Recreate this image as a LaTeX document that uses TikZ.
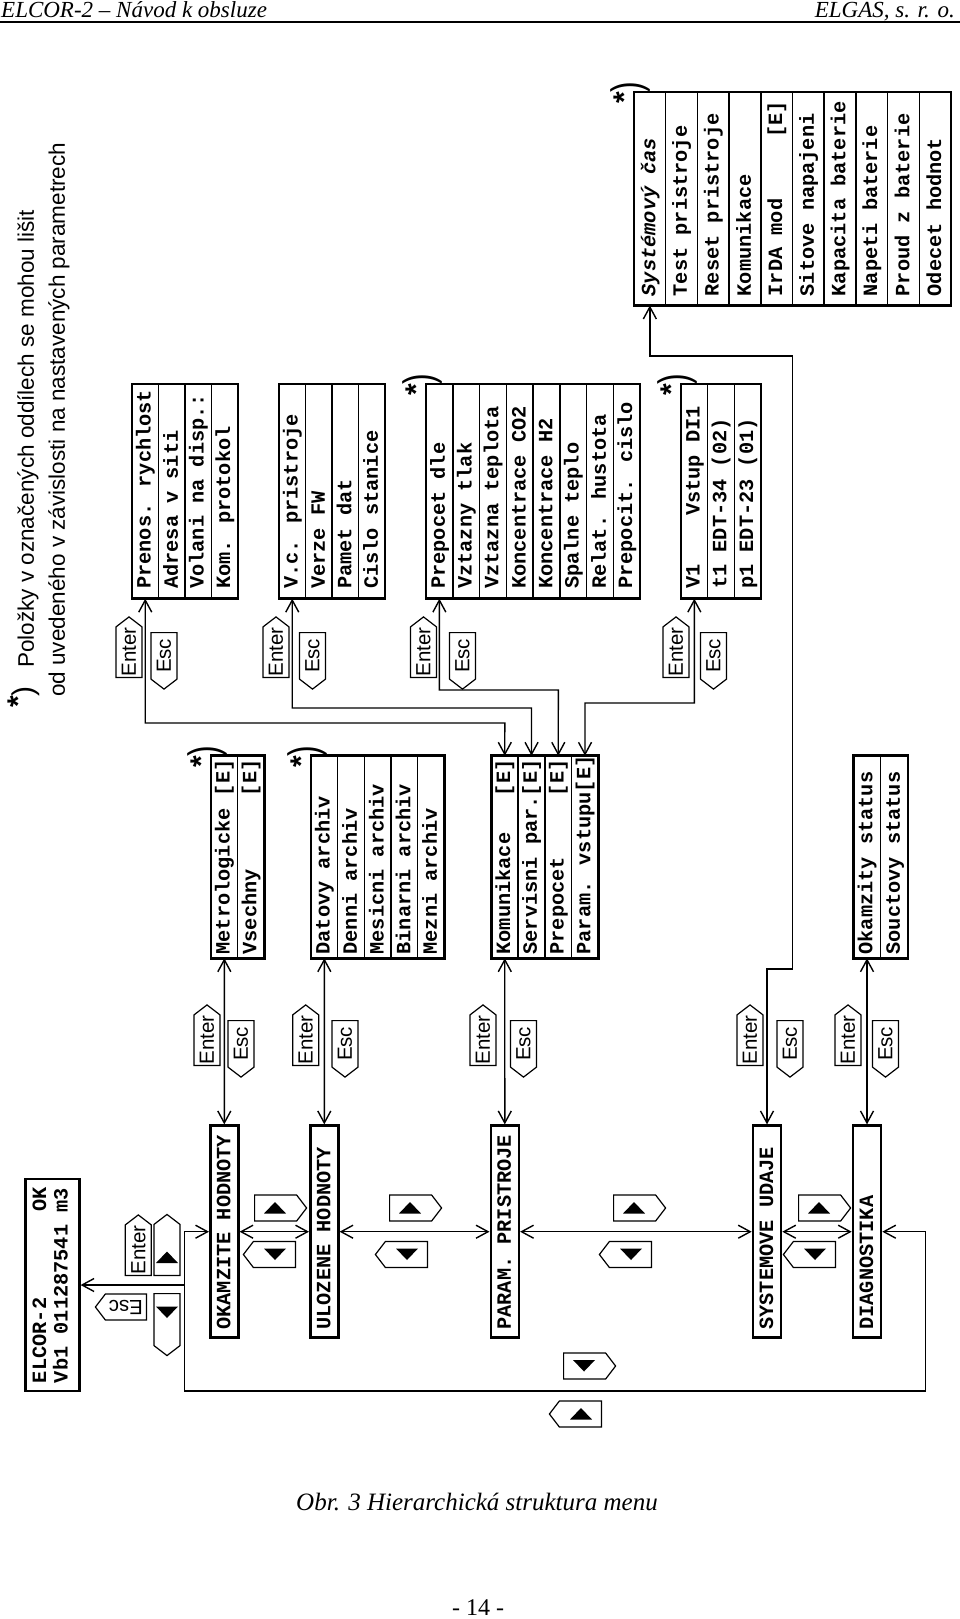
\documentclass[tikz,border=0pt]{standalone}
\usepackage{fontspec}
\setmainfont{Liberation Serif}
\setsansfont{Liberation Sans}
\newfontfamily\monof{Liberation Mono}
\usepackage{graphicx}
\usetikzlibrary{arrows.meta,shapes.symbols,calc}
\newcommand\mono{\monof\bfseries\fontsize{20.3}{21.5}\selectfont}
\newcommand\tagf{\sffamily\fontsize{20.5}{20.5}\selectfont}
\newcommand\legf{\sffamily\fontsize{22.5}{22.5}\selectfont}
\newcommand\hdrf{\rmfamily\itshape\fontsize{23}{23}\selectfont}
\newcommand\capf{\rmfamily\itshape\fontsize{25}{25}\selectfont}
\newcommand\rt[2]{\rotatebox{90}{\makebox[#1][l]{\rule[-3pt]{0pt}{18pt}#2}}}
\newcommand\starmark{{\bfseries\fontsize{30}{30}\selectfont\raisebox{7pt}{*}}{\fontsize{32}{32}\selectfont\scalebox{1}[1.33]{)}}}
\newcommand\starmarkS{{\bfseries\fontsize{30}{30}\selectfont\raisebox{5pt}{*}}{\fontsize{30}{30}\selectfont)}}
\newcommand\triU[1]{\fill #1 +(-11,5.5) -- +(11,5.5) -- +(0,-6) -- cycle;}
\newcommand\triD[1]{\fill #1 +(-11,-6) -- +(11,-6) -- +(0,5.5) -- cycle;}
\begin{document}
\begin{tikzpicture}[x=1pt,y=-1pt,
  >={Straight Barb[length=12pt,width=13pt]},
  conn/.style={line width=1.4pt},
  mbox/.style={draw, line width=2.6pt, minimum width=28pt, minimum height=212pt, inner sep=0pt, font=\mono},
  row/.style={draw, line width=1.5pt, inner sep=0pt, outer sep=0pt, font=\mono},
  outer/.style={line width=2.6pt},
  tg/.style={draw, line width=1.2pt, shape=signal, signal pointer angle=105, inner sep=0pt, font=\tagf},
  tgv/.style={tg, minimum width=26pt},
  tgh/.style={tg, minimum height=26pt},
  star/.style={rotate=90, anchor=base west, inner sep=0pt, font=\sffamily},
  side/.style={rotate=90, anchor=west, inner sep=0pt, font=\legf}]
\useasboundingbox (0,0) rectangle (960,1619);

% header
\node[anchor=base west, inner sep=0pt, font=\hdrf] (hdl) at (1,18) {ELCOR-2 – Návod k obsluze};
\node[anchor=base east, inner sep=0pt, font=\hdrf] (hdr) at (955,18) {ELGAS, s. r. o.};
\coordinate (hla) at (0,22);
\coordinate (hlb) at (960,22);
\draw[line width=1.2pt] (hla) -- (hlb);

% legend
\node[star] (stl) at (33,708) {\starmarkS};
\node[side] (leg1) at (28,668) {Položky v označených oddílech se mohou lišit};
\node[side] (leg2) at (59,697) {od uvedeného v závislosti na nastavených parametrech};

% main menu
\node[mbox, minimum width=53.6pt] (elcor) at (52.5,1285) {\rotatebox{90}{\begin{tabular}{@{}l@{}}\makebox[196pt][l]{ELCOR-2\hfill OK}\\\makebox[196pt][l]{Vb1 011287541 m3}\end{tabular}}};
\node[mbox] (okam) at (224.3,1231.7) {\rt{196pt}{OKAMZITE HODNOTY}};
\node[mbox] (uloz) at (324.3,1231.7) {\rt{196pt}{ULOZENE HODNOTY}};
\node[mbox] (param) at (504.8,1231.7) {\rt{196pt}{PARAM. PRISTROJE}};
\node[mbox] (syst) at (767,1231.7) {\rt{196pt}{SYSTEMOVE UDAJE}};
\node[mbox] (diag) at (867,1231.7) {\rt{196pt}{DIAGNOSTIKA}};

% submenus level 1
\foreach \t [count=\i] in {{Metrologicke\hfill[E]},{Vsechny\hfill[E]}}
  \node[row, minimum width=26.65pt, minimum height=202.6pt] (met\i) at ({211+26.65*(\i-0.5)},857) {\rt{195pt}{\t}};
\draw[outer] (met1.north west) rectangle (met2.south east);

\foreach \t [count=\i] in {Datovy archiv,Denni archiv,Mesicni archiv,Binarni archiv,Mezni archiv}
  \node[row, minimum width=26.66pt, minimum height=202.6pt] (dat\i) at ({311+26.66*(\i-0.5)},857) {\rt{195pt}{\t}};
\draw[outer] (dat1.north west) rectangle (dat5.south east);

\foreach \t [count=\i] in {{Komunikace\hfill[E]},{Servisni par.[E]},{Prepocet\hfill[E]},{Param. vstupu[E]}}
  \node[row, minimum width=26.75pt, minimum height=202.6pt] (kom\i) at ({491.4+26.75*(\i-0.5)},857) {\rt{195pt}{\t}};
\draw[outer] (kom1.north west) rectangle (kom4.south east);

\foreach \t [count=\i] in {Okamzity status,Souctovy status}
  \node[row, minimum width=27.4pt, minimum height=202.6pt] (ok\i) at ({853.3+27.4*(\i-0.5)},857) {\rt{195pt}{\t}};
\draw[outer] (ok1.north west) rectangle (ok2.south east);

% submenus level 2
\foreach \t [count=\i] in {Prenos. rychlost,Adresa v siti,Volani na disp.:,Kom. protokol}
  \node[row, minimum width=26.5pt, minimum height=214.7pt] (pr\i) at ({132+26.5*(\i-0.5)},491.35) {\rt{195pt}{\t}};
\draw[outer] (pr1.north west) rectangle (pr4.south east);

\foreach \t [count=\i] in {V.c. pristroje,Verze FW,Pamet dat,Cislo stanice}
  \node[row, minimum width=26.5pt, minimum height=214.7pt] (vc\i) at ({279+26.5*(\i-0.5)},491.35) {\rt{195pt}{\t}};
\draw[outer] (vc1.north west) rectangle (vc4.south east);

\foreach \t [count=\i] in {Prepocet dle,Vztazny tlak,Vztazna teplota,Koncentrace CO2,Koncentrace H2,Spalne teplo,Relat. hustota,Prepocit. cislo}
  \node[row, minimum width=26.75pt, minimum height=214.7pt] (pd\i) at ({426+26.75*(\i-0.5)},491.35) {\rt{195pt}{\t}};
\draw[outer] (pd1.north west) rectangle (pd8.south east);

\foreach \t [count=\i] in {V1~~~~Vstup DI1,t1 EDT-34 (02),p1 EDT-23 (01)}
  \node[row, minimum width=26.67pt, minimum height=214.7pt] (vi\i) at ({681+26.67*(\i-0.5)},491.35) {\rt{195pt}{\t}};
\draw[outer] (vi1.north west) rectangle (vi3.south east);

\foreach \t [count=\i] in {{{\itshape Systémový čas}},Test pristroje,Reset pristroje,Komunikace,{IrDA mod\hfill[E]},Sitove napajeni,Kapacita baterie,Napeti baterie,Proud z baterie,Odecet hodnot}
  \node[row, minimum width=31.7pt, minimum height=213.5pt] (sy\i) at ({634+31.7*(\i-0.5)},198.75) {\rt{195pt}{\t}};
\draw[outer] (sy1.north west) rectangle (sy10.south east);

% star marks
\node[star] (st1) at (218,768) {\starmark};
\node[star] (st2) at (318,768) {\starmark};
\node[star] (st3) at (433,396) {\starmark};
\node[star] (st4) at (688,396) {\starmark};
\node[star] (st5) at (641,104) {\starmark};

% main horizontal chain
\coordinate (ea) at (184.3,1231.7);
\coordinate (eb) at (184.3,1285);
\coordinate (ec) at (184.3,1391);
\coordinate (ed) at (925.7,1391);
\coordinate (ee) at (925.7,1231.7);
\draw[conn,->] (ea) -- (okam.west);
\draw[conn,->] (eb) -- (elcor.east);
\draw[conn,->] (ea) -- (ec) -- (ed) -- (ee) -- (diag.east);
\draw[conn,<->] (okam.east) -- (uloz.west);
\draw[conn,<->] (uloz.east) -- (param.west);
\draw[conn,<->] (param.east) -- (syst.west);
\draw[conn,<->] (syst.east) -- (diag.west);

% main to level 1
\draw[conn,<->] (okam.north) -- (met1.south);
\draw[conn,<->] (uloz.north) -- (dat1.south);
\draw[conn,<->] (param.north) -- (kom1.south);
\draw[conn,<->] (diag.north) -- (ok1.south);
\coordinate (sj1) at (792.7,356);
\coordinate (sj2) at (792.7,969);
\draw[conn,<->] (sy1.south) |- (sj1) -- (sj2) -| (syst.north);

% level 1 to level 2
\coordinate (pj) at (504.8,723);
\coordinate (vj) at (531.5,708);
\coordinate (dj) at (558.3,690);
\coordinate (wj) at (585,703);
\draw[conn,<->] (pr1.south) |- (pj) -- (kom1.north);
\draw[conn,<->] (vc1.south) |- (vj) -- (kom2.north);
\draw[conn,<->] (pd1.south) |- (dj) -- (kom3.north);
\draw[conn,<->] (vi1.south) |- (wj) -- (kom4.north);

% Enter / Esc tags on vertical connectors
\foreach \n/\xe/\xs in {a/207/241,b/305.7/345,c/483/523.5,d/750/790,e/848/885.5} {
  \node[tgv, signal to=north, minimum height=56pt, anchor=south] (en\n) at (\xe,1066) {\rotatebox{90}{Enter}};
  \node[tgv, signal to=south, minimum height=52pt, anchor=north] (es\n) at (\xs,1020) {\rotatebox{90}{Esc}};
}
\foreach \n/\xe/\xs in {f/129/164,g/276/312.5,h/423.5/462.5,i/676/713.5} {
  \node[tgv, signal to=north, minimum height=56pt, anchor=south] (en\n) at (\xe,678) {\rotatebox{90}{Enter}};
  \node[tgv, signal to=south, minimum height=52pt, anchor=north] (es\n) at (\xs,632) {\rotatebox{90}{Esc}};
}

% arrow-key tags on the main line
\foreach \n/\xu/\xd in {a/254/296,b/389/428,c/613/652,d/798/836} {
  \node[tgh, signal to=east, minimum width=52pt, anchor=west] (up\n) at (\xu,1208) {};
  \node[tgh, signal to=west, minimum width=52pt, anchor=east] (dn\n) at (\xd,1254.5) {};
  \triU{(\xu+21,1208)}
  \triD{(\xd-21,1254.5)}
}
\node[tgh, signal to=east, minimum width=52pt, anchor=west] (upl) at (563,1366) {};
\triD{(584,1366)}
\node[tgh, signal to=west, minimum width=52pt, anchor=east] (dnl) at (602,1414) {};
\triU{(581,1414)}

% tags at the ELCOR display
\node[tgv, signal to=north, minimum height=56pt, anchor=south] (enx) at (138.3,1276) {\rotatebox{90}{Enter}};
\node[tgv, signal to=north, minimum height=51pt, anchor=south] (upx) at (167,1276) {};
\triU{(167,1257.5)}
\node[tgv, signal to=south, minimum height=52pt, anchor=north] (dnx) at (167,1293) {};
\triD{(167,1312.5)}
\node[tgh, signal to=west, minimum width=51pt, anchor=east] (esx) at (147,1307) {\rotatebox{180}{Esc}};

% caption and page number
\node[anchor=base, inner sep=0pt, font=\capf] (cap) at (477,1510) {Obr. 3 Hierarchická struktura menu};
\node[anchor=base, inner sep=0pt, font=\rmfamily\fontsize{24}{24}\selectfont] (pgn) at (478,1615) {- 14 -};
\end{tikzpicture}
\end{document}
